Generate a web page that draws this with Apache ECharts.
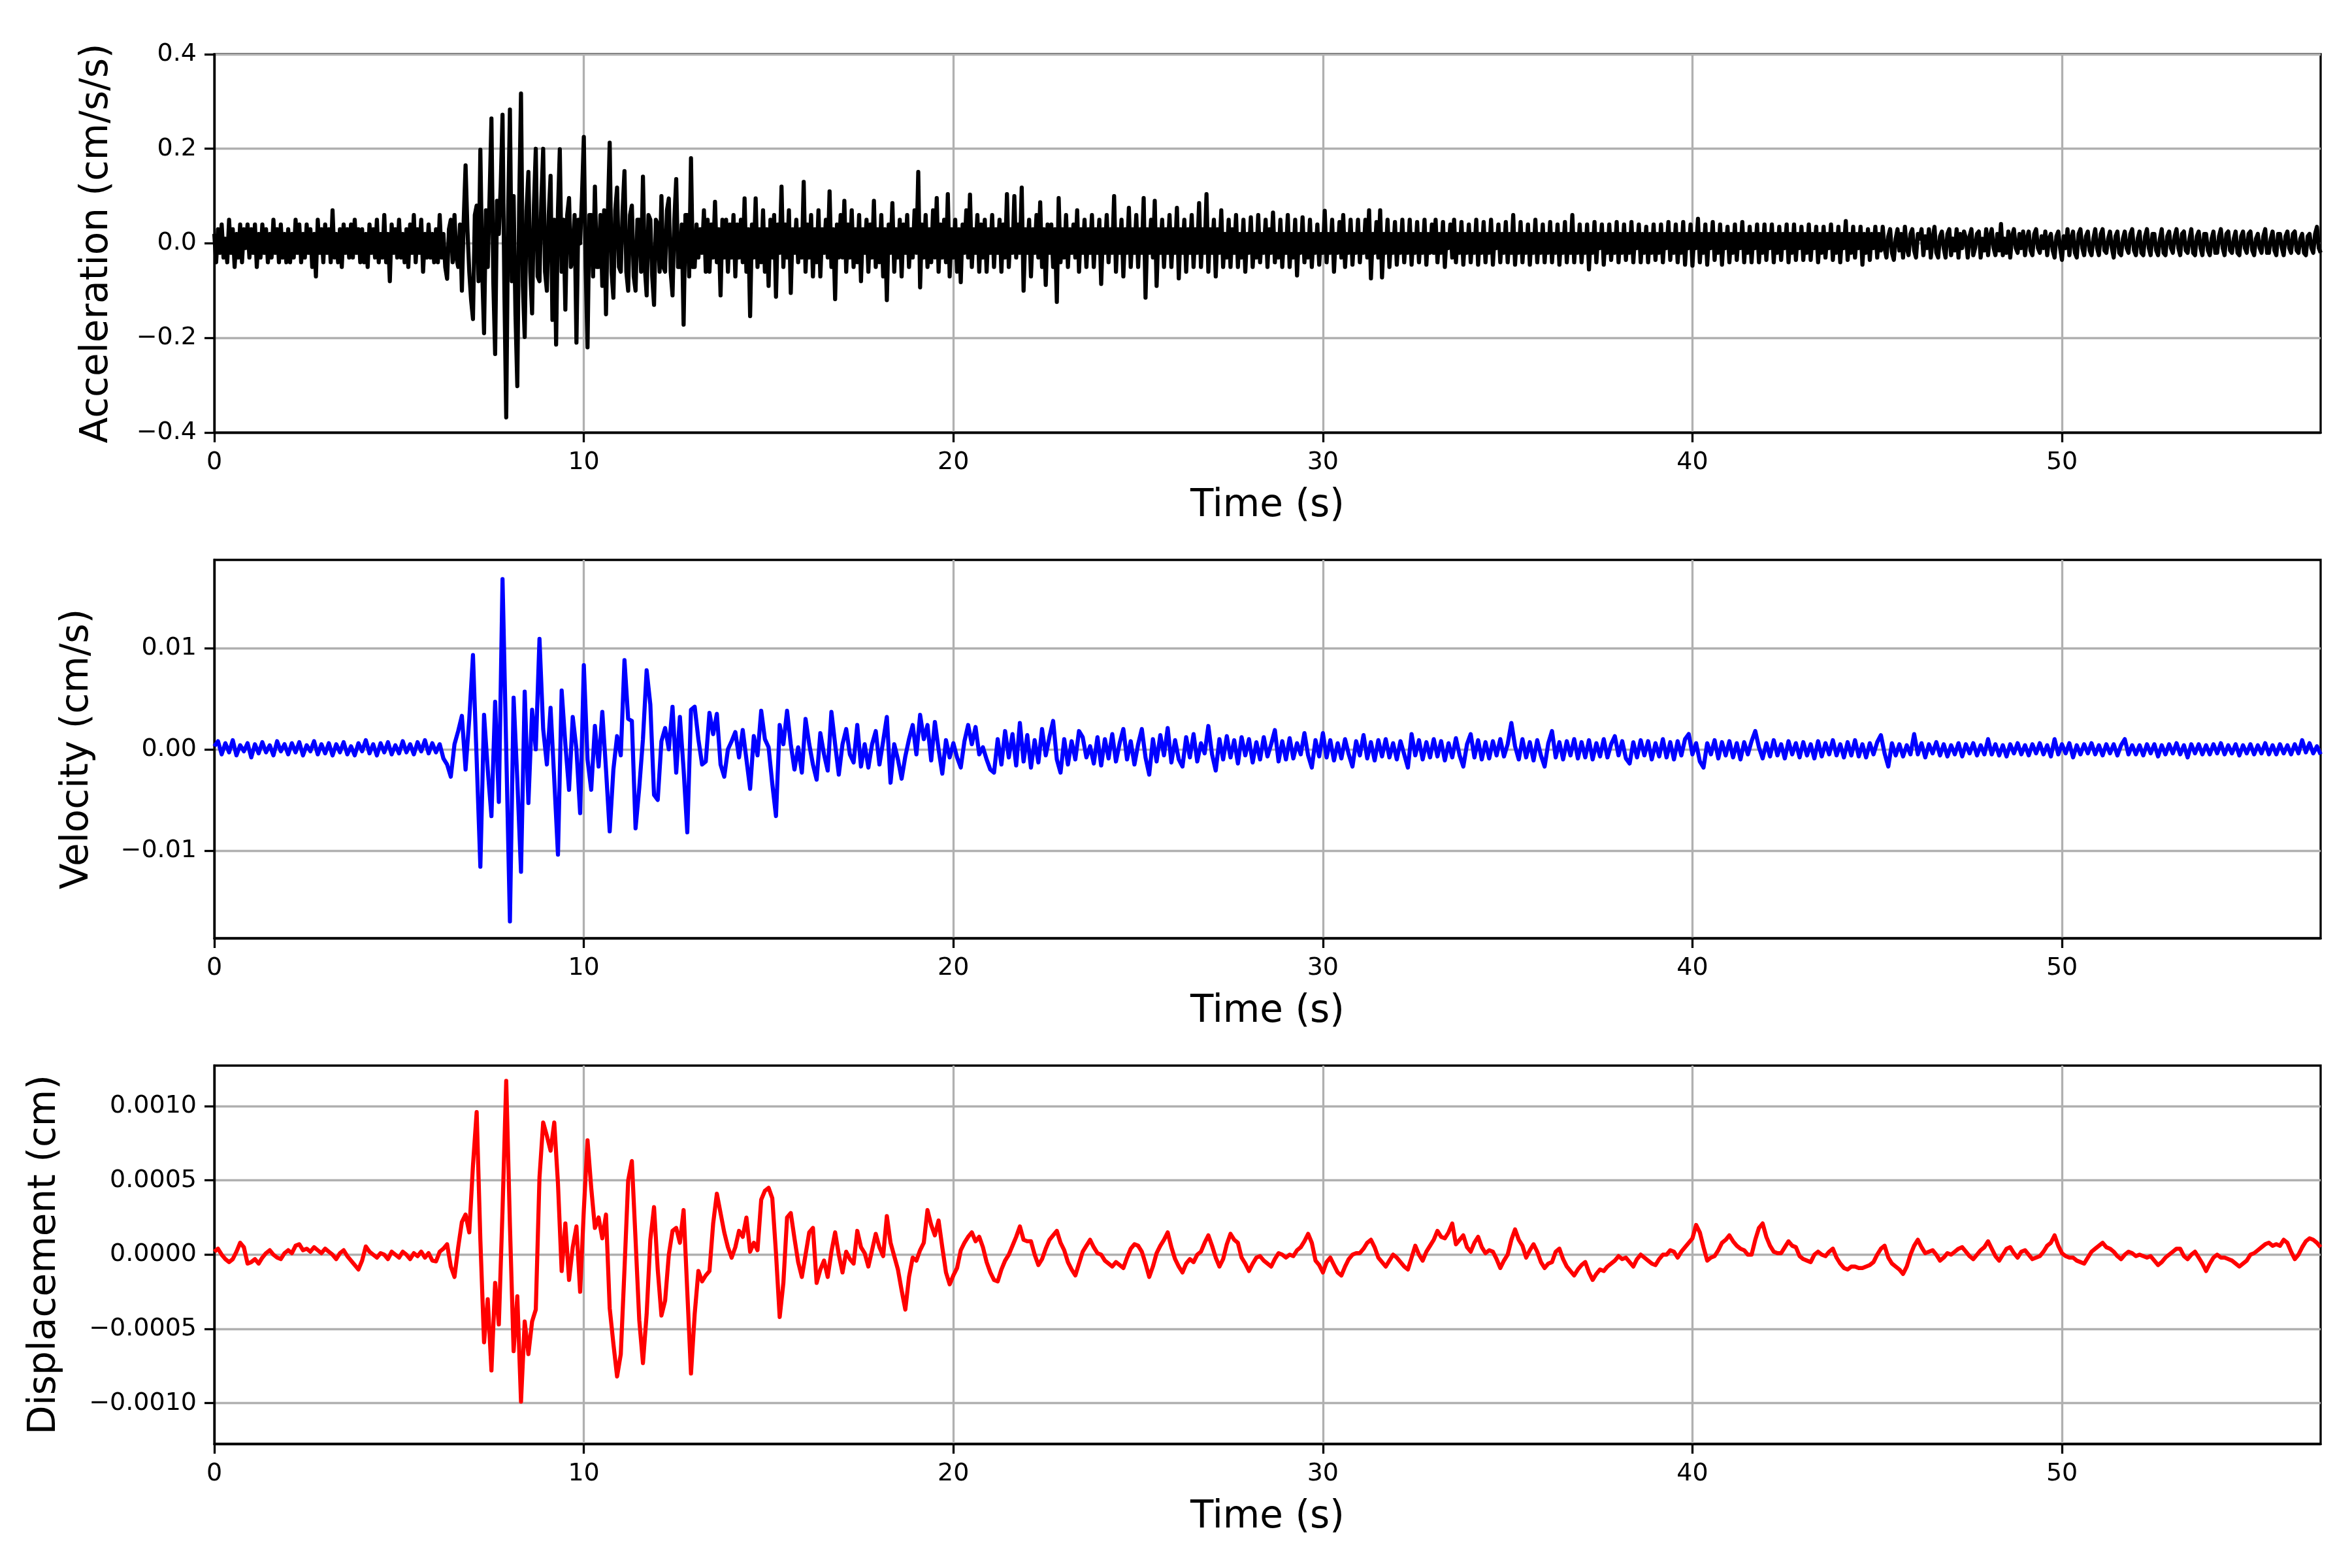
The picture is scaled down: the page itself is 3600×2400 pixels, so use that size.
<!DOCTYPE html>
<html>
<head>
<meta charset="utf-8">
<title>Ground motion records</title>
<script src="https://cdn.jsdelivr.net/npm/echarts@6.0.0/dist/echarts.min.js"></script>
<style>
  html, body { margin: 0; padding: 0; background: #fff; }
  #chart { width: 3600px; height: 2400px; }
</style>
</head>
<body>
<div id="chart"></div>
<script>
// ---- data (traced from the records) ----
const T_MAX = 57.0;      // s
const ACC_DT = 0.05;     // s, acceleration traced at a finer step
const DT = 0.1;          // s, velocity and displacement

// acceleration, cm/s/s (one line per second)
const accel = [
  0.02,-0.04,0.03,-0.02,0.04,-0.03,0.01,-0.04,0.05,-0.02,0.03,-0.05,0.02,-0.03,0.04,-0.04,0.03,-0.01,0.04,-0.03,
  0.03,-0.02,0.04,-0.05,0.02,-0.03,0.04,-0.02,0.03,-0.04,0.02,-0.03,0.05,-0.02,0.03,-0.04,0.04,-0.03,0.02,-0.04,
  0.03,-0.04,0.02,-0.03,0.05,-0.02,0.04,-0.04,0.02,-0.03,0.04,-0.02,0.03,-0.05,0.02,-0.07,0.05,-0.02,0.03,-0.04,
  0.04,-0.02,0.03,-0.04,0.07,-0.03,0.02,-0.04,0.03,-0.05,0.04,-0.02,0.03,-0.03,0.04,-0.03,0.05,-0.02,0.03,-0.04,
  0.03,-0.04,0.02,-0.05,0.04,-0.02,0.03,-0.03,0.05,-0.04,0.02,-0.03,0.06,-0.04,0.02,-0.08,0.04,-0.02,0.03,-0.03,
  0.05,-0.03,0.02,-0.04,0.03,-0.05,0.04,-0.02,0.06,-0.04,0.03,-0.02,0.05,-0.06,0.02,-0.03,0.04,-0.03,0.02,-0.04,
  0.03,-0.04,0.06,-0.03,0.02,-0.05,-0.075,0.03,0.05,-0.04,0.06,-0.03,-0.05,0.04,-0.1,0.05,0.165,0.03,-0.06,-0.12,
  -0.16,0.06,0.08,-0.08,0.198,-0.06,-0.19,0.07,-0.05,0.1,0.264,-0.08,-0.234,0.09,0.02,0.12,0.272,-0.1,-0.368,0.05,
  0.283,-0.08,0.1,-0.15,-0.302,0.08,0.317,-0.09,-0.198,0.07,0.151,-0.06,-0.148,0.08,0.2,-0.07,-0.08,0.09,0.2,-0.06,
  -0.1,0.06,0.143,-0.162,0.05,-0.214,0.07,0.199,-0.06,0.05,-0.14,0.06,0.096,-0.05,-0.03,0.06,-0.21,0.05,0.0,0.1,
  0.225,-0.05,-0.22,0.06,0.06,-0.07,0.12,-0.05,-0.05,0.06,-0.09,0.07,-0.15,0.06,0.213,-0.06,-0.115,0.07,0.118,-0.05,
  -0.06,0.07,0.153,-0.06,-0.1,0.06,0.08,-0.07,-0.1,0.05,0.05,-0.06,0.141,-0.05,-0.11,0.06,0.05,-0.07,-0.13,0.05,
  0.04,-0.06,0.1,-0.05,-0.06,0.07,0.095,-0.06,-0.11,0.05,0.136,-0.05,-0.05,0.04,-0.172,0.06,0.06,-0.07,0.18,-0.05,
  -0.05,0.04,-0.03,0.03,-0.02,0.07,-0.06,0.05,-0.06,0.04,-0.03,0.088,-0.04,0.03,-0.11,0.05,-0.03,0.05,-0.06,0.04,
  -0.03,0.06,-0.07,0.04,-0.03,0.05,-0.04,0.095,-0.06,0.03,-0.154,0.04,-0.03,0.095,-0.05,0.03,-0.04,0.07,-0.06,0.03,
  -0.09,0.05,-0.03,0.06,-0.113,0.04,-0.02,0.12,-0.05,0.04,-0.03,0.07,-0.105,0.03,-0.02,0.05,-0.04,0.03,-0.03,0.13,
  -0.06,0.04,-0.03,0.06,-0.07,0.03,-0.04,0.07,-0.07,0.03,-0.02,0.05,-0.03,0.11,-0.05,0.03,-0.118,0.04,-0.03,0.06,
  -0.03,0.09,-0.06,0.04,-0.03,0.07,-0.05,0.03,-0.04,0.06,-0.08,0.03,-0.02,0.05,-0.06,0.04,-0.03,0.09,-0.05,0.03,
  -0.04,0.06,-0.07,0.03,-0.12,0.04,-0.02,0.085,-0.06,0.03,-0.03,0.05,-0.07,0.04,-0.02,0.06,-0.05,0.03,-0.03,0.07,
  -0.02,0.151,-0.093,0.04,-0.03,0.06,-0.05,0.03,-0.04,0.07,-0.03,0.096,-0.06,0.04,-0.03,0.05,-0.04,0.104,-0.07,0.03,
  -0.03,0.05,-0.06,0.03,-0.082,0.04,-0.02,0.07,-0.03,0.103,-0.05,0.03,-0.02,0.06,-0.06,0.04,-0.03,0.05,-0.06,0.03,
  -0.02,0.06,-0.05,0.03,-0.02,0.05,-0.06,0.04,-0.03,0.104,-0.05,0.03,-0.02,0.1,-0.03,0.04,-0.02,0.118,-0.1,0.03,
  -0.02,0.05,-0.07,0.03,-0.02,0.06,-0.03,0.087,-0.05,0.03,-0.088,0.04,-0.02,0.04,-0.05,0.03,-0.124,0.096,-0.04,0.03,
  -0.03,0.06,-0.05,0.03,-0.02,0.04,-0.03,0.07,-0.06,0.03,-0.02,0.05,-0.05,0.03,-0.02,0.06,-0.05,0.03,-0.02,0.05,
  -0.086,0.03,-0.02,0.06,-0.04,0.03,-0.02,0.1,-0.06,0.03,-0.02,0.05,-0.07,0.03,-0.02,0.075,-0.05,0.03,-0.02,0.06,
  -0.05,0.03,-0.02,0.096,-0.115,0.03,-0.02,0.05,-0.03,0.09,-0.09,0.03,-0.02,0.05,-0.05,0.03,-0.02,0.06,-0.05,0.03,
  -0.02,0.075,-0.074,0.03,-0.02,0.05,-0.06,0.03,-0.02,0.06,-0.05,0.03,-0.02,0.085,-0.05,0.03,-0.02,0.104,-0.06,0.03,
  -0.02,0.05,-0.07,0.03,-0.02,0.07,-0.05,0.02,-0.03,0.05,-0.05,0.03,-0.02,0.06,-0.05,0.02,-0.03,0.05,-0.06,0.02,
  -0.02,0.055,-0.05,0.02,-0.03,0.06,-0.04,0.02,-0.02,0.05,-0.05,0.03,-0.02,0.065,-0.04,0.02,-0.03,0.05,-0.05,0.02,
  -0.02,0.06,-0.05,0.02,-0.03,0.05,-0.068,0.02,-0.02,0.055,-0.04,0.02,-0.03,0.05,-0.05,0.02,-0.02,0.04,-0.045,0.02,
  -0.02,0.069,-0.04,0.02,-0.02,0.05,-0.06,0.02,-0.02,0.045,-0.03,0.06,-0.05,0.02,-0.02,0.05,-0.045,0.02,-0.02,0.05,
  -0.04,0.02,-0.02,0.05,-0.03,0.07,-0.074,0.02,-0.02,0.045,-0.03,0.07,-0.072,0.02,-0.02,0.05,-0.05,0.02,-0.02,0.045,
  -0.045,0.02,-0.02,0.05,-0.04,0.02,-0.02,0.05,-0.045,0.02,-0.02,0.045,-0.04,0.02,-0.02,0.05,-0.045,0.02,-0.02,0.04,
  -0.02,0.05,-0.04,0.02,-0.02,0.045,-0.05,0.02,-0.01,0.04,-0.03,0.05,-0.04,0.02,-0.02,0.045,-0.045,0.02,-0.02,0.04,
  -0.04,0.02,-0.02,0.05,-0.045,0.02,-0.02,0.045,-0.04,0.02,-0.02,0.05,-0.045,0.02,-0.01,0.04,-0.04,0.02,-0.02,0.045,
  -0.04,0.02,-0.02,0.06,-0.045,0.02,-0.02,0.045,-0.04,0.02,-0.02,0.04,-0.045,0.02,-0.02,0.05,-0.04,0.02,-0.02,0.04,
  -0.04,0.02,-0.02,0.045,-0.04,0.02,-0.02,0.04,-0.045,0.02,-0.02,0.045,-0.04,0.02,-0.02,0.06,-0.04,0.02,-0.02,0.04,
  -0.04,0.02,-0.02,0.04,-0.055,0.02,-0.02,0.045,-0.04,0.02,-0.01,0.04,-0.045,0.02,-0.02,0.04,-0.035,0.02,-0.02,0.045,
  -0.04,0.02,-0.02,0.04,-0.035,0.02,-0.02,0.045,-0.04,0.02,-0.01,0.04,-0.04,0.02,-0.02,0.035,-0.04,0.02,-0.02,0.04,
  -0.035,0.02,-0.02,0.04,-0.04,0.02,-0.01,0.045,-0.035,0.02,-0.02,0.04,-0.04,0.02,-0.02,0.045,-0.045,0.02,-0.01,0.04,
  -0.047,0.02,-0.01,0.052,-0.04,0.02,-0.02,0.04,-0.045,0.02,-0.01,0.045,-0.035,0.02,-0.02,0.04,-0.045,0.02,-0.01,0.035,
  -0.04,0.02,-0.02,0.04,-0.035,0.02,-0.01,0.045,-0.04,0.02,-0.02,0.035,-0.04,0.02,-0.01,0.04,-0.04,0.02,-0.02,0.04,
  -0.035,0.02,-0.01,0.04,-0.04,0.02,-0.02,0.035,-0.035,0.02,-0.01,0.04,-0.04,0.02,-0.02,0.04,-0.035,0.02,-0.01,0.035,
  -0.035,0.02,-0.02,0.04,-0.035,0.02,-0.01,0.035,-0.04,0.02,-0.02,0.035,-0.03,0.02,-0.01,0.04,-0.035,0.02,-0.02,0.035,
  -0.04,0.02,-0.01,0.047,-0.035,0.02,-0.02,0.035,-0.03,0.02,-0.01,0.035,-0.045,0.02,-0.02,0.03,-0.035,0.02,-0.01,0.035,
  -0.03,0.02,-0.015,0.035,-0.01,-0.03,0.015,0.03,-0.02,-0.035,0.01,0.03,-0.015,0.02,-0.03,0.035,-0.01,-0.025,0.02,0.03,
  -0.015,-0.03,0.02,0.01,0.03,-0.025,0.015,-0.01,0.03,-0.03,0.01,0.035,-0.02,-0.03,0.015,0.025,-0.01,-0.03,0.02,0.03,
  -0.025,0.01,-0.015,0.03,-0.03,0.02,-0.01,0.025,0.01,-0.03,0.015,0.03,-0.025,-0.01,0.02,0.025,-0.03,0.01,-0.015,0.03,
  -0.025,0.015,0.03,-0.01,-0.025,0.02,-0.015,0.041,-0.025,0.01,-0.02,0.025,-0.03,0.015,0.03,-0.01,-0.02,0.02,-0.01,0.025,
  -0.025,0.01,0.025,-0.015,-0.025,0.02,0.03,-0.01,-0.02,0.015,-0.01,0.025,-0.025,0.01,0.02,-0.015,-0.03,0.015,0.025,-0.01,
  -0.035,0.015,-0.01,0.03,-0.025,0.01,0.025,-0.02,-0.03,0.02,0.03,-0.01,-0.025,0.015,0.025,-0.015,-0.025,0.01,0.03,-0.01,
  -0.025,0.02,0.03,-0.015,-0.02,0.01,0.025,-0.01,-0.03,0.015,0.025,-0.02,-0.025,0.01,0.025,-0.01,-0.02,0.02,0.03,-0.015,
  -0.025,0.01,0.025,-0.02,-0.025,0.015,0.03,-0.01,-0.025,0.02,0.02,-0.015,-0.025,0.01,0.03,-0.02,-0.025,0.015,0.025,-0.01,
  -0.02,0.015,0.03,-0.01,-0.025,0.02,0.025,-0.015,-0.02,0.01,0.03,-0.02,-0.025,0.015,0.025,-0.01,-0.025,0.02,0.02,-0.015,
  -0.025,0.01,0.025,-0.02,-0.02,0.015,0.03,-0.01,-0.025,0.02,0.025,-0.015,-0.02,0.01,0.025,-0.02,-0.025,0.015,0.025,-0.01,
  -0.02,0.02,0.025,-0.015,-0.025,0.01,0.02,-0.01,-0.02,0.015,0.03,-0.02,-0.02,0.01,0.025,-0.015,-0.025,0.02,0.02,-0.01,
  -0.025,0.015,0.025,-0.01,-0.02,0.02,0.025,-0.015,-0.02,0.01,0.02,-0.02,-0.025,0.015,0.02,-0.01,-0.02,0.02,0.035,-0.01,
  -0.02
];

// velocity, in units of 1e-3 cm/s (one line per second)
const VEL_UNIT = 1e-3;
const velocity = [
  0.3,0.8,-0.5,0.6,-0.3,0.9,-0.6,0.4,-0.2,0.6,
  -0.8,0.5,-0.4,0.7,-0.3,0.4,-0.6,0.8,-0.2,0.5,
  -0.5,0.6,-0.3,0.7,-0.6,0.4,-0.2,0.8,-0.5,0.5,
  -0.4,0.6,-0.6,0.5,-0.3,0.7,-0.5,0.3,-0.6,0.6,
  -0.2,0.9,-0.4,0.5,-0.6,0.6,-0.3,0.7,-0.5,0.4,
  -0.4,0.8,-0.3,0.5,-0.5,0.7,-0.2,0.9,-0.4,0.6,
  -0.3,0.5,-0.9,-1.5,-2.7,0.5,1.8,3.3,-2.0,3.0,
  9.3,-1.0,-11.6,3.4,-2.0,-6.6,4.7,-5.2,16.8,0.0,
  -17.0,5.1,-3.0,-12.1,5.7,-5.3,3.9,0.0,10.9,2.0,
  -1.5,4.1,-3.0,-10.4,5.8,0.5,-4.0,3.2,0.0,-6.3,
  8.3,-1.0,-4.0,2.3,-1.7,3.7,-2.0,-8.1,-2.0,1.3,
  -0.6,8.8,3.0,2.8,-7.8,-3.8,1.0,7.8,4.4,-4.5,
  -5.0,0.8,2.1,0.0,4.2,-2.3,3.2,-2.0,-8.2,3.9,
  4.2,1.0,-1.5,-1.2,3.6,1.5,3.5,-1.5,-2.7,0.0,
  0.8,1.7,-0.8,1.9,-1.0,-3.9,1.3,-0.6,3.8,1.0,
  0.2,-3.4,-6.6,2.4,0.5,3.8,0.5,-2.0,0.2,-2.3,
  3.0,0.5,-1.5,-3.0,1.6,-0.5,-2.1,3.7,0.5,-2.5,
  0.5,2.0,-0.5,-1.3,2.4,-1.7,0.5,-1.8,0.5,1.8,
  -1.5,0.8,3.2,-3.3,0.5,-1.0,-2.9,-0.7,1.0,2.4,
  -0.5,3.4,1.0,2.4,-1.1,2.7,0.0,-2.4,0.9,-0.8,
  0.6,-0.8,-1.8,0.8,2.4,0.5,2.2,-0.5,0.2,-1.0,
  -2.0,-2.3,1.0,-1.5,1.8,-0.8,1.5,-1.6,2.6,-1.2,
  1.4,-1.8,0.9,-1.3,2.0,-0.6,1.2,2.8,-1.0,-2.3,
  1.0,-1.5,0.8,-1.0,1.8,1.2,-0.8,0.3,-1.4,1.2,
  -1.6,1.0,-0.9,1.5,-1.2,0.6,2.0,-1.0,0.8,-1.5,
  0.5,2.0,-0.8,-2.5,1.0,-1.2,1.4,-0.6,2.1,-1.3,
  0.9,-1.0,-1.7,1.2,-0.8,1.5,-1.2,0.6,-0.4,2.3,
  -0.5,-2.1,1.0,-1.0,1.3,-0.8,0.9,-1.4,1.2,-0.6,
  1.0,-1.3,0.7,-1.0,1.2,-0.7,0.5,1.9,-1.2,0.8,
  -1.0,1.1,-0.9,0.6,-0.5,1.6,-0.6,-1.8,0.9,-0.7,
  1.6,-0.8,0.9,-1.1,0.6,-0.9,1.0,-0.5,-1.7,0.8,
  -0.6,1.4,-0.9,0.7,-1.1,0.9,-0.7,1.0,-0.8,0.6,
  -1.0,0.8,-0.5,-1.8,1.5,-0.6,0.9,-1.0,0.7,-0.8,
  1.0,-0.7,0.8,-1.1,0.6,-0.8,1.1,-0.6,-1.7,0.5,
  1.5,-0.8,0.9,-1.0,0.7,-0.9,0.8,-0.6,1.0,-0.7,
  0.5,2.6,0.3,-1.0,1.0,-0.8,0.7,-1.1,0.9,-0.6,
  -1.7,0.6,1.8,-0.8,0.7,-1.0,0.8,-0.6,1.0,-0.9,
  0.7,-0.8,0.9,-1.0,0.6,-0.7,1.0,-0.8,0.5,1.3,
  -0.6,0.8,-0.9,-1.4,0.7,-0.8,0.9,-0.6,0.8,-1.0,
  0.6,-0.7,1.0,-0.8,0.7,-1.0,0.8,-0.6,1.0,1.5,
  -0.5,0.6,-1.2,-1.8,0.6,-0.5,0.9,-0.9,0.7,-0.6,
  0.8,-0.8,0.6,-1.0,0.7,-0.5,0.8,1.8,0.2,-0.9,
  0.6,-0.7,0.9,-0.6,0.5,-0.9,0.8,-0.5,0.6,-0.8,
  0.7,-0.6,0.5,-0.9,0.8,-0.7,0.6,-0.5,0.9,-0.6,
  0.5,-0.8,0.7,-0.6,0.9,-0.7,0.5,-0.8,0.6,-0.5,
  0.7,1.4,-0.4,-1.7,0.6,-0.6,0.5,-0.7,0.4,-0.5,
  1.5,-0.5,0.6,-0.8,0.5,-0.4,0.7,-0.6,0.5,-0.7,
  0.4,-0.5,0.6,-0.7,0.5,-0.4,0.6,-0.6,0.4,-0.5,
  1.0,-0.5,0.5,-0.6,0.4,-0.7,0.5,-0.4,0.6,-0.5,
  0.4,-0.6,0.5,-0.4,0.6,-0.5,0.4,-0.7,1.0,-0.5,
  0.5,-0.4,0.6,-0.8,0.4,-0.5,0.5,-0.4,0.6,-0.5,
  0.4,-0.6,0.5,-0.4,0.5,-0.6,0.4,1.0,-0.5,0.4,
  -0.5,0.4,-0.6,0.5,-0.4,0.5,-0.7,0.4,-0.5,0.5,
  -0.4,0.6,-0.5,0.4,-0.8,0.5,-0.4,0.5,-0.5,0.4,
  -0.5,0.5,-0.4,0.6,-0.5,0.4,-0.4,0.5,-0.6,0.4,
  -0.4,0.5,-0.5,0.4,-0.4,0.6,-0.5,0.4,-0.5,0.5,
  -0.4,0.4,-0.5,0.5,-0.4,0.9,-0.3,0.6,-0.4,0.3,
  -0.5
];

// displacement, in units of 1e-4 cm (one line per second)
const DISP_UNIT = 1e-4;
const displacement = [
  0.2,0.4,0.0,-0.3,-0.5,-0.3,0.2,0.8,0.5,-0.6,
  -0.5,-0.3,-0.6,-0.2,0.1,0.3,0.0,-0.2,-0.3,0.1,
  0.3,0.1,0.6,0.7,0.3,0.4,0.2,0.5,0.3,0.1,
  0.4,0.2,0.0,-0.3,0.1,0.3,-0.1,-0.4,-0.7,-1.0,
  -0.4,0.55,0.2,0.0,-0.2,0.1,0.0,-0.3,0.2,0.0,
  -0.2,0.2,0.0,-0.3,0.1,-0.1,0.2,-0.2,0.1,-0.4,
  -0.45,0.2,0.4,0.7,-0.8,-1.5,0.5,2.2,2.7,1.5,
  6.0,9.6,1.0,-5.9,-3.0,-7.8,-1.9,-4.7,3.0,11.7,
  2.0,-6.5,-2.8,-9.9,-4.5,-6.7,-4.5,-3.7,5.2,8.9,
  8.0,7.0,8.9,4.8,-1.1,2.1,-1.7,0.5,1.9,-2.5,
  3.0,7.7,4.5,1.8,2.5,1.1,2.7,-3.6,-6.0,-8.2,
  -6.7,-1.0,5.0,6.3,1.0,-4.4,-7.3,-4.0,1.0,3.2,
  -1.0,-4.1,-3.1,0.0,1.6,1.8,0.8,3.0,-2.5,-8.0,
  -4.0,-1.1,-1.8,-1.4,-1.1,2.1,4.1,2.8,1.5,0.5,
  -0.2,0.5,1.6,1.2,2.5,0.2,0.8,0.3,3.7,4.3,
  4.5,3.8,0.1,-4.2,-1.9,2.5,2.8,1.1,-0.5,-1.5,
  0.0,1.5,1.8,-1.9,-1.0,-0.4,-1.5,0.2,1.5,0.0,
  -1.2,0.2,-0.3,-0.6,1.6,0.5,0.1,-0.8,0.3,1.4,
  0.5,-0.1,2.6,0.8,-0.1,-1.0,-2.4,-3.7,-1.5,-0.2,
  -0.4,0.3,0.8,3.0,2.0,1.3,2.3,0.5,-1.2,-2.0,
  -1.4,-0.9,0.3,0.8,1.2,1.5,0.9,1.2,0.5,-0.5,
  -1.2,-1.7,-1.8,-1.0,-0.4,0.0,0.6,1.2,1.9,1.0,
  0.9,0.9,0.0,-0.7,-0.3,0.4,1.0,1.3,1.6,0.8,
  0.3,-0.5,-1.0,-1.4,-0.6,0.2,0.6,1.0,0.5,0.1,
  0.0,-0.4,-0.6,-0.8,-0.5,-0.7,-0.9,-0.2,0.4,0.7,
  0.6,0.2,-0.6,-1.5,-0.8,0.1,0.6,1.0,1.5,0.5,
  -0.3,-0.8,-1.2,-0.6,-0.3,-0.5,0.0,0.2,0.8,1.3,
  0.6,-0.2,-0.8,-0.3,0.7,1.4,1.0,0.8,-0.2,-0.6,
  -1.1,-0.6,-0.2,-0.1,-0.4,-0.6,-0.8,-0.3,0.1,0.0,
  -0.2,0.0,-0.1,0.3,0.5,0.9,1.4,0.8,-0.4,-0.7,
  -1.2,-0.5,-0.2,-0.7,-1.2,-1.4,-0.8,-0.3,0.0,0.1,
  0.1,0.4,0.8,1.0,0.5,-0.2,-0.5,-0.8,-0.4,0.0,
  -0.2,-0.5,-0.8,-1.0,-0.2,0.6,0.0,-0.4,0.2,0.6,
  1.0,1.6,1.2,1.1,1.5,2.1,0.7,1.0,1.3,0.5,
  0.2,0.8,1.2,0.5,0.1,0.3,0.2,-0.3,-0.9,-0.4,
  0.0,1.0,1.7,1.0,0.6,-0.2,0.3,0.7,0.2,-0.5,
  -0.9,-0.6,-0.5,0.2,0.4,-0.3,-0.8,-1.1,-1.4,-1.0,
  -0.7,-0.5,-1.2,-1.7,-1.3,-1.0,-1.1,-0.8,-0.6,-0.4,
  -0.1,-0.3,-0.2,-0.5,-0.8,-0.3,0.0,-0.2,-0.4,-0.6,
  -0.7,-0.3,0.0,0.0,0.3,0.2,-0.2,0.2,0.5,0.8,
  1.1,2.0,1.5,0.5,-0.4,-0.2,-0.1,0.3,0.8,1.0,
  1.3,0.9,0.6,0.4,0.3,0.0,0.0,1.0,1.8,2.1,
  1.2,0.6,0.2,0.1,0.1,0.5,0.9,0.6,0.5,-0.1,
  -0.3,-0.4,-0.5,0.0,0.2,0.0,-0.1,0.2,0.4,-0.2,
  -0.6,-0.9,-1.0,-0.8,-0.8,-0.9,-0.9,-0.8,-0.7,-0.5,
  0.0,0.4,0.6,-0.2,-0.6,-0.8,-1.0,-1.3,-0.8,0.0,
  0.6,1.0,0.5,0.1,0.2,0.3,0.0,-0.4,-0.2,0.1,
  0.0,0.2,0.4,0.5,0.2,-0.1,-0.3,0.0,0.3,0.5,
  0.9,0.4,-0.1,-0.4,0.0,0.4,0.5,0.1,-0.2,0.2,
  0.3,0.0,-0.3,-0.2,-0.1,0.2,0.6,0.8,1.3,0.6,
  0.1,-0.1,-0.2,-0.2,-0.4,-0.5,-0.6,-0.2,0.2,0.4,
  0.6,0.8,0.5,0.4,0.2,-0.1,-0.3,0.0,0.2,0.1,
  -0.1,0.0,-0.1,-0.2,-0.1,-0.4,-0.7,-0.5,-0.2,0.0,
  0.2,0.4,0.4,-0.1,-0.3,0.0,0.2,-0.2,-0.6,-1.1,
  -0.6,-0.2,0.0,-0.2,-0.2,-0.3,-0.4,-0.6,-0.8,-0.6,
  -0.4,0.0,0.1,0.3,0.5,0.7,0.8,0.6,0.7,0.6,
  1.0,0.8,0.2,-0.3,0.0,0.5,0.9,1.1,1.0,0.8,
  0.5
];

// tick positions
const timeTicks = [0, 10, 20, 30, 40, 50];
const accTicks = [-0.4, -0.2, 0, 0.2, 0.4];
const velTicks = [-0.01, 0, 0.01];
const dispTicks = [-0.001, -0.0005, 0, 0.0005, 0.001];

// ---- layout ----
const FONT = 'DejaVu Sans';
const PLOT_LEFT = 328, PLOT_RIGHT = 48, PLOT_H = 579, PLOT_STEP = 774, PLOT_TOP = 83;
const LW = 3.3;          // spines, ticks, grid
const TRACE_W = 6.25;

const panels = [
  { label: 'Acceleration (cm/s/s)', values: accel, dt: ACC_DT, unit: 1, color: '#000000',
    min: -0.4, max: 0.4, ticks: accTicks, digits: 1, nameGap: 150 },
  { label: 'Velocity (cm/s)', values: velocity, dt: DT, unit: VEL_UNIT, color: '#0000ff',
    min: -0.01865, max: 0.0187, ticks: velTicks, digits: 2, nameGap: 180 },
  { label: 'Displacement (cm)', values: displacement, dt: DT, unit: DISP_UNIT, color: '#ff0000',
    min: -0.001274, max: 0.001273, ticks: dispTicks, digits: 4, nameGap: 230 },
];

function fmtTick(v, digits) {
  const s = Math.abs(v).toFixed(digits);
  return (v < 0 ? '\u2212' : '') + s;
}

const axisLineStyle = { color: '#000', width: LW };
const gridLineStyle = { color: '#b0b0b0', width: LW };

const option = {
  backgroundColor: '#ffffff',
  animation: false,
  grid: panels.map((p, i) => ({
    left: PLOT_LEFT,
    right: PLOT_RIGHT,
    top: PLOT_TOP + i * PLOT_STEP,
    height: PLOT_H,
    show: true,
    borderColor: '#000',
    borderWidth: LW,
    backgroundColor: 'transparent',
  })),
  xAxis: panels.map((p, i) => ({
    type: 'value',
    gridIndex: i,
    min: 0,
    max: T_MAX,
    name: 'Time (s)',
    nameLocation: 'middle',
    nameGap: 84,
    nameTextStyle: { fontFamily: FONT, fontSize: 58, color: '#000' },
    axisLine: { show: true, onZero: false, lineStyle: axisLineStyle },
    axisTick: { show: true, inside: false, length: 15, lineStyle: axisLineStyle, customValues: timeTicks },
    axisLabel: { fontFamily: FONT, fontSize: 38, color: '#000', margin: 27, customValues: timeTicks,
                 formatter: (v) => String(v) },
    splitLine: { show: true, lineStyle: gridLineStyle },
  })),
  yAxis: panels.map((p, i) => ({
    type: 'value',
    gridIndex: i,
    min: p.min,
    max: p.max,
    name: p.label,
    nameLocation: 'middle',
    nameRotate: 90,
    nameGap: p.nameGap,
    nameTextStyle: { fontFamily: FONT, fontSize: 58, color: '#000' },
    axisLine: { show: true, lineStyle: axisLineStyle },
    axisTick: { show: true, inside: false, length: 15, lineStyle: axisLineStyle, customValues: p.ticks },
    axisLabel: { fontFamily: FONT, fontSize: 38, color: '#000', margin: 27, customValues: p.ticks,
                 formatter: (v) => fmtTick(v, p.digits) },
    splitLine: { show: true, lineStyle: gridLineStyle },
  })),
  series: panels.map((p, i) => ({
    type: 'line',
    xAxisIndex: i,
    yAxisIndex: i,
    showSymbol: false,
    symbol: 'none',
    clip: true,
    z: 3,
    lineStyle: { color: p.color, width: TRACE_W, join: 'round' },
    data: p.values.map((v, k) => [+(k * p.dt).toFixed(2), v * p.unit]),
  })),
};

const chart = echarts.init(document.getElementById('chart'), null, { renderer: 'canvas' });
chart.setOption(option);
</script>
</body>
</html>
